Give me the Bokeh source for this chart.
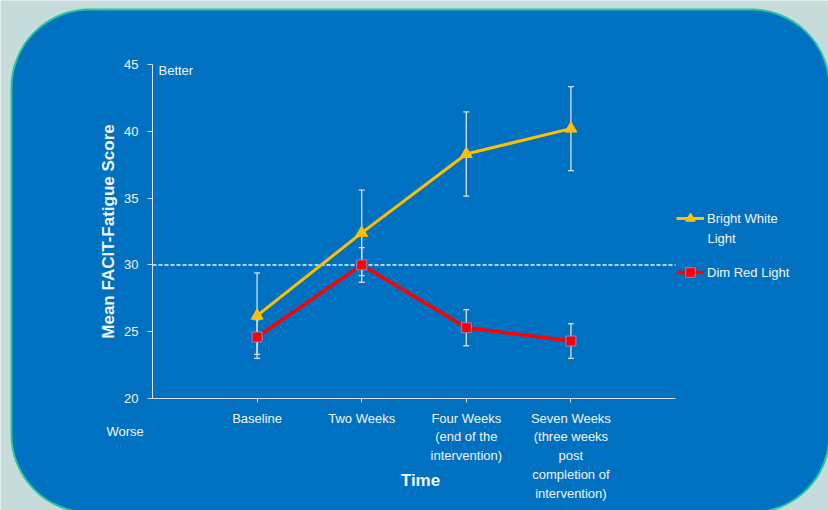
from math import pi

from bokeh.embed import file_html
from bokeh.models import (BoxAnnotation, ColumnDataSource, FixedTicker, Label,
                          Legend, LegendItem, LinearAxis, Range1d)
from bokeh.plotting import figure
from bokeh.resources import INLINE

# Time points and category tick labels
timepoints = [1, 2, 3, 4]
time_labels = ["Baseline", "Two Weeks", "Four Weeks\n(end of the\nintervention)",
               "Seven Weeks\n(three weeks\npost\ncompletion of\nintervention)"]

# Mean FACIT-Fatigue scores with error bar half-widths
bright_mean = [26.2, 32.4, 38.3, 40.2]
bright_err = [3.2, 3.2, 3.15, 3.15]
dim_mean = [24.6, 30.0, 25.3, 24.3]
dim_err = [1.3, 1.3, 1.35, 1.3]

y_ticks = [20, 25, 30, 35, 40, 45]
threshold = 30
x_span = (0, 5)
y_span = (20, 45)

PAGE = "#C6DCDB"
PANEL = "#0070C0"
EDGE = "#22C7A2"
INK = "#F2F6FB"
AXIS = "#D5E1EE"
GOLD = "#FFC000"
RED = "#FF0000"
FONT = "Liberation Sans"

W, H = 828, 510
# Pixel box that the axes occupy inside the canvas
AX_L, AX_R, AX_T, AX_B = 152, 675, 64, 398

# The frame fills the whole canvas; ranges are widened so the axes land on the box above
kx = (AX_R - AX_L) / (x_span[1] - x_span[0])
ky = (AX_B - AX_T) / (y_span[1] - y_span[0])
x_range = Range1d(x_span[0] - AX_L / kx, x_span[1] + (W - AX_R) / kx)
y_range = Range1d(y_span[0] - (H - AX_B) / ky, y_span[1] + AX_T / ky)

p = figure(width=W, height=H, output_backend="svg", toolbar_location=None,
           x_range=x_range, y_range=y_range, x_axis_location=None, y_axis_location=None,
           min_border=0)
p.border_fill_color = PAGE
p.background_fill_color = PAGE
p.outline_line_color = None
p.grid.visible = False

# Rounded blue panel behind everything
p.add_layout(BoxAnnotation(left=11, right=829, top=9, bottom=512,
                           left_units="canvas", right_units="canvas",
                           top_units="canvas", bottom_units="canvas",
                           fill_color=PANEL, fill_alpha=1.0,
                           line_color=EDGE, line_width=2, line_alpha=1.0,
                           border_radius=78, level="underlay"))

# Axes pinned inside the frame
xa = LinearAxis(fixed_location=y_span[0], bounds=x_span,
                ticker=FixedTicker(ticks=timepoints),
                major_label_overrides={t: lab for t, lab in zip(timepoints, time_labels)},
                major_tick_out=4, major_tick_in=0, major_label_standoff=8,
                major_label_text_line_height=1.25)
ya = LinearAxis(fixed_location=x_span[0], bounds=y_span,
                ticker=FixedTicker(ticks=y_ticks),
                major_tick_out=5, major_tick_in=0, major_label_standoff=9)
for ax in (xa, ya):
    ax.minor_tick_line_color = None
    ax.axis_line_color = AXIS
    ax.major_tick_line_color = AXIS
    ax.major_label_text_color = INK
    ax.major_label_text_font = FONT
    ax.major_label_text_font_size = "13px"
p.add_layout(xa, "below")
p.add_layout(ya, "left")

# Dashed reference line at a score of 30, across the axis span
p.segment(x0=[x_span[0]], y0=[threshold], x1=[x_span[1]], y1=[threshold],
          line_color=INK, line_width=1.5, line_dash="4 2")

src = ColumnDataSource(dict(
    x=timepoints,
    b=bright_mean,
    b_lo=[m - e for m, e in zip(bright_mean, bright_err)],
    b_hi=[m + e for m, e in zip(bright_mean, bright_err)],
    d=dim_mean,
    d_lo=[m - e for m, e in zip(dim_mean, dim_err)],
    d_hi=[m + e for m, e in zip(dim_mean, dim_err)],
))

# Error bars: stems plus short caps
for lo, hi in (("b_lo", "b_hi"), ("d_lo", "d_hi")):
    p.segment(x0="x", y0=lo, x1="x", y1=hi, source=src, line_color=AXIS, line_width=1.3)
    for col in (lo, hi):
        p.scatter(x="x", y=col, source=src, marker="dash", size=6,
                  line_color=AXIS, line_width=1.3)

# Series lines and markers
b_line = p.line("x", "b", source=src, line_color=GOLD, line_width=3)
d_line = p.line("x", "d", source=src, line_color=RED, line_width=3.5)
b_mark = p.scatter("x", "b", source=src, marker="triangle", size=12,
                   fill_color=GOLD, line_color=GOLD)
d_mark = p.scatter("x", "d", source=src, marker="square", size=10,
                   fill_color=RED, line_color="#8A86D8", line_width=1)

legend = Legend(items=[LegendItem(label="Bright White", renderers=[b_line, b_mark]),
                       LegendItem(label="Dim Red Light", renderers=[d_line, d_mark])],
                location=(676, 226), orientation="vertical",
                background_fill_alpha=0, border_line_color=None,
                padding=0, margin=0, spacing=30, glyph_width=28, glyph_height=24,
                label_height=24, label_standoff=3,
                label_text_color=INK, label_text_font=FONT,
                label_text_font_size="13px")
p.add_layout(legend)


def note(x, y, text, size="13px", **kw):
    p.add_layout(Label(x=x, y=y, x_units="canvas", y_units="canvas", text=text,
                       text_color=INK, text_font=FONT, text_font_size=size,
                       text_baseline="middle", **kw))


# Free text: wrapped legend line, scale direction hints and axis titles
note(707, 238, "Light")
note(158, 70, "Better")
note(106, 431, "Worse")
note(108, 231, "Mean FACIT-Fatigue Score", size="17px", angle=pi / 2,
     text_font_style="bold", text_align="center")
note(420, 480, "Time", size="17px", text_font_style="bold", text_align="center")

open("out.html", "w").write(file_html(p, INLINE))
